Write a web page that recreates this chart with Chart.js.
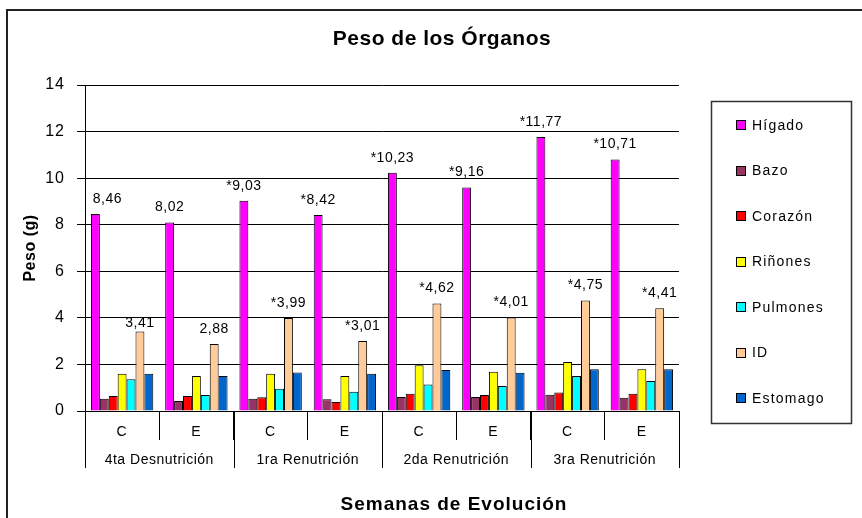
<!DOCTYPE html>
<html><head><meta charset="utf-8">
<script src="https://cdn.jsdelivr.net/npm/chart.js@4"></script>
<style>html,body{margin:0;padding:0;background:#fff;overflow:hidden}canvas{display:block}</style>
</head><body>
<canvas id="c" width="862" height="518"></canvas>
<script>
// ---- data ----
const categories = ['C','E','C','E','C','E','C','E'];
const groups = ['4ta Desnutrición','1ra Renutrición','2da Renutrición','3ra Renutrición'];
const seriesNames = ['Hígado','Bazo','Corazón','Riñones','Pulmones','ID','Estomago'];
const higado   = [8.46, 8.1, 9.03, 8.42, 10.23, 9.6, 11.77, 10.8];
const bazo     = [0.53, 0.43, 0.53, 0.5, 0.6, 0.6, 0.7, 0.57];
const corazon  = [0.64, 0.64, 0.59, 0.39, 0.74, 0.69, 0.79, 0.74];
const rinones  = [1.6, 1.5, 1.6, 1.5, 1.96, 1.69, 2.1, 1.79];
const pulmones = [1.36, 0.69, 0.96, 0.83, 1.14, 1.07, 1.5, 1.29];
const idVals   = [3.41, 2.88, 3.99, 3.01, 4.62, 4.01, 4.75, 4.41];
const estomago = [1.6, 1.5, 1.65, 1.6, 1.76, 1.64, 1.79, 1.79];
const higadoLabels = ['8,46','8,02','*9,03','*8,42','*10,23','*9,16','*11,77','*10,71'];
const idLabels     = ['3,41','2,88','*3,99','*3,01','*4,62','*4,01','*4,75','*4,41'];
const yTicks = [0, 2, 4, 6, 8, 10, 12, 14];

// ---- style ----
const colors = ['#FF00FF','#993366','#FF0000','#FFFF00','#00FFFF','#FFCC99','#0066CC'];
const values = [higado, bazo, corazon, rinones, pulmones, idVals, estomago];
const FONT = '"Liberation Sans", Arial, sans-serif';
const L = 85, R = 679, T = 85, B = 411;

const decor = {
  id: 'decor',
  beforeDraw(chart) {
    const ctx = chart.ctx;
    ctx.save(); ctx.fillStyle = '#fff'; ctx.fillRect(0, 0, chart.width, chart.height); ctx.restore();
    ctx.letterSpacing = '1px';
  },
  afterDatasetsDraw(chart) {
    const ctx = chart.ctx;
    ctx.save();
    ctx.fillStyle = '#000'; ctx.textAlign = 'center'; ctx.textBaseline = 'middle';
    ctx.font = '14px ' + FONT; ctx.letterSpacing = '0.5px';
    const m0 = chart.getDatasetMeta(0), m5 = chart.getDatasetMeta(5);
    m0.data.forEach((el, i) => {
      const dx = i === 0 ? 12 : 0;
      ctx.fillText(higadoLabels[i], el.x + dx, el.y - 15);
    });
    m5.data.forEach((el, i) => {
      const dy = i === 0 ? 7 : 0;
      ctx.fillText(idLabels[i], el.x, el.y - 15 + dy);
    });
    ctx.restore();
  },
  afterDraw(chart) {
    const ctx = chart.ctx, x = chart.scales.x;
    ctx.save();
    // outer frame
    ctx.strokeStyle = '#222'; ctx.lineWidth = 2;
    ctx.beginPath(); ctx.moveTo(7, 518); ctx.lineTo(7, 10); ctx.lineTo(862, 10); ctx.stroke();
    // title
    ctx.fillStyle = '#000'; ctx.textAlign = 'center'; ctx.textBaseline = 'middle';
    ctx.font = 'bold 21px ' + FONT; ctx.letterSpacing = '0.5px';
    ctx.fillText('Peso de los Órganos', 442, 39);
    // x title
    ctx.font = 'bold 19px ' + FONT; ctx.letterSpacing = '1px';
    ctx.fillText('Semanas de Evolución', 454, 505);
    // y title
    ctx.save();
    ctx.translate(31, 248); ctx.rotate(-Math.PI / 2);
    ctx.font = 'bold 16px ' + FONT; ctx.letterSpacing = '0.5px';
    ctx.fillText('Peso (g)', 0, 0);
    ctx.restore();
    // group separators and labels
    ctx.strokeStyle = '#000'; ctx.lineWidth = 1;
    for (let g = 0; g <= groups.length; g++) {
      let px;
      if (g === 0) px = x.left;
      else if (g === groups.length) px = x.right;
      else px = (x.getPixelForValue(2 * g - 1) + x.getPixelForValue(2 * g)) / 2;
      px = Math.round(px) + 0.5;
      ctx.beginPath(); ctx.moveTo(px, B); ctx.lineTo(px, 468); ctx.stroke();
    }
    ctx.font = '14px ' + FONT; ctx.letterSpacing = '0.5px';
    groups.forEach((gname, g) => {
      const cx = (x.getPixelForValue(2 * g) + x.getPixelForValue(2 * g + 1)) / 2;
      ctx.fillText(gname, cx, 460);
    });
    // legend
    ctx.strokeStyle = '#333'; ctx.lineWidth = 1.5;
    ctx.strokeRect(711.5, 101.5, 140, 322);
    ctx.textAlign = 'left';
    ctx.font = '14px ' + FONT; ctx.letterSpacing = '1.2px';
    seriesNames.forEach((n, i) => {
      const cy = 125 + i * 45.5;
      ctx.fillStyle = colors[i];
      ctx.fillRect(737, Math.round(cy) - 4, 8, 8);
      ctx.strokeStyle = '#000'; ctx.lineWidth = 1;
      ctx.strokeRect(736.5, Math.round(cy) - 4.5, 9, 9);
      ctx.fillStyle = '#000';
      ctx.fillText(n, 752, cy + 1);
    });
    ctx.restore();
  }
};

new Chart(document.getElementById('c'), {
  type: 'bar',
  data: {
    labels: categories,
    datasets: seriesNames.map((n, i) => ({
      label: n, data: values[i], backgroundColor: colors[i],
      borderColor: '#000', borderWidth: 1,
      categoryPercentage: 0.84, barPercentage: 1
    }))
  },
  options: {
    responsive: false, animation: false, devicePixelRatio: 1,
    layout: { padding: { left: 0, top: T, right: 862 - R, bottom: 0 } },
    plugins: { legend: { display: false }, title: { display: false }, tooltip: { enabled: false } },
    scales: {
      x: {
        offset: true,
        grid: { display: true, drawOnChartArea: false, drawTicks: true, tickLength: 29, offset: true, color: '#000', lineWidth: 1 },
        border: { display: true, color: '#000', width: 1 },
        ticks: { color: '#000', font: { family: FONT, size: 14 }, padding: -16, maxRotation: 0 },
        afterFit(s) { s.height = 518 - B; }
      },
      y: {
        min: 0, max: 14,
        afterBuildTicks(s) { s.ticks = yTicks.map(v => ({ value: v })); },
        ticks: { color: '#000', font: { family: FONT, size: 16 }, padding: 12 },
        grid: { color: '#000', lineWidth: 1, tickLength: 8 },
        border: { display: true, color: '#000', width: 1 },
        afterFit(s) { s.width = L; }
      }
    }
  },
  plugins: [decor]
});
</script>
</body></html>
